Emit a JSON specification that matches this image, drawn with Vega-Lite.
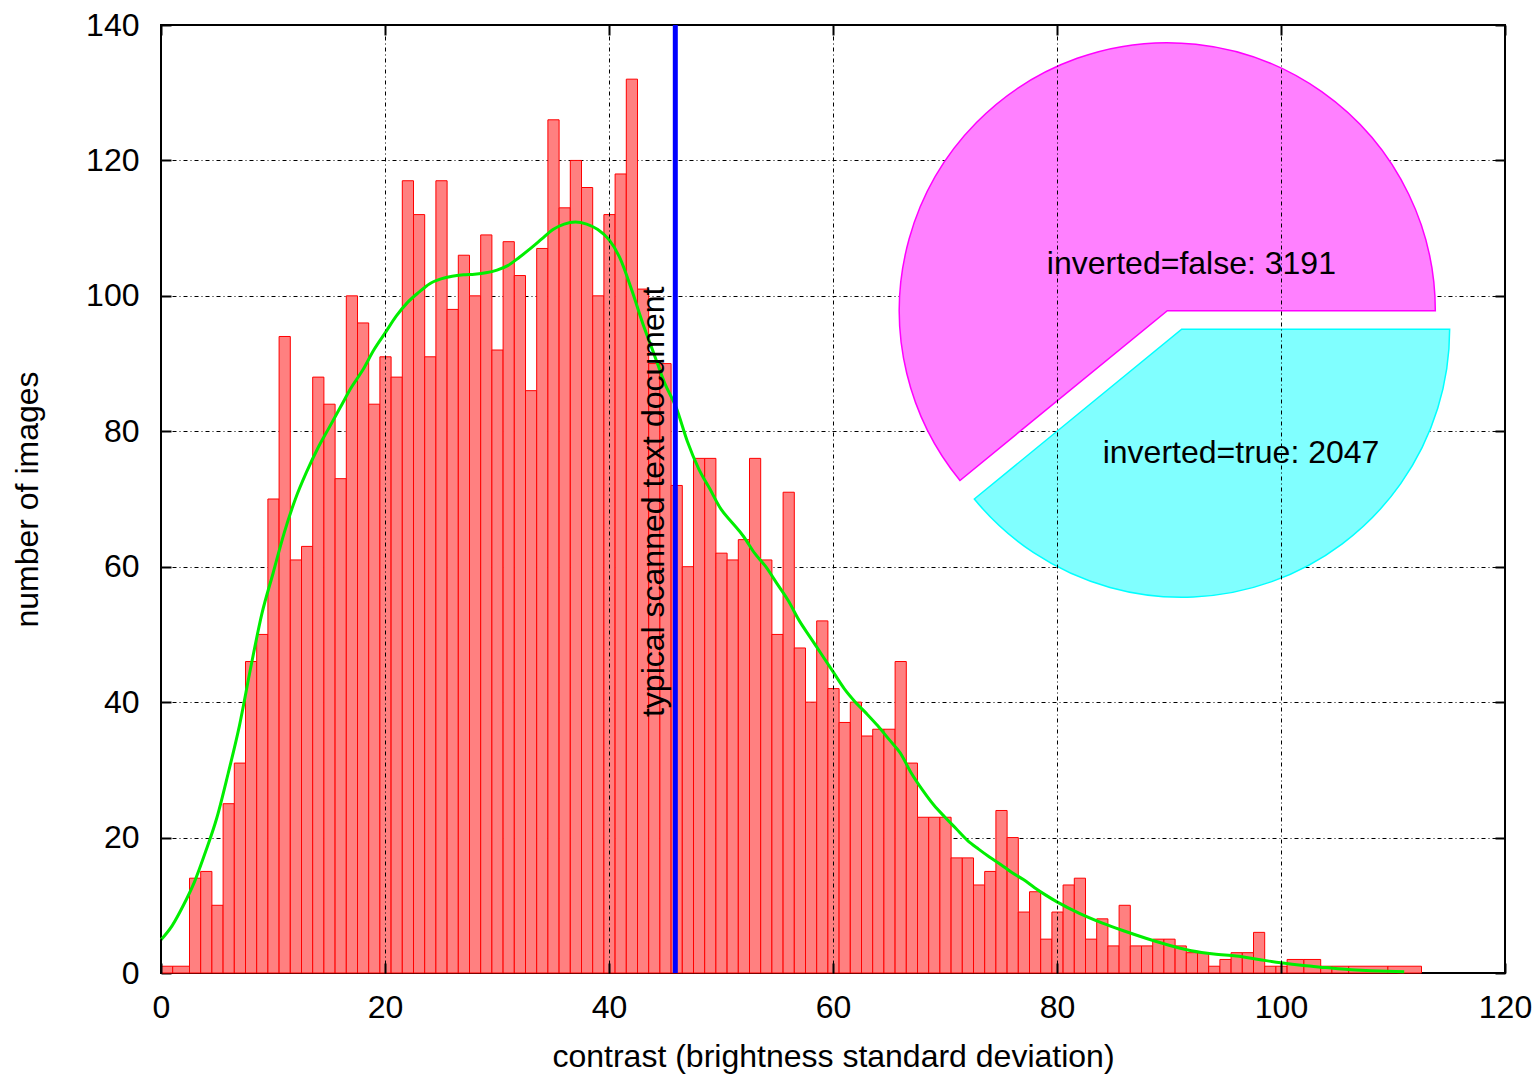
{
  "$schema": "https://vega.github.io/schema/vega-lite/v6.json",
  "width": 1344,
  "height": 948,
  "autosize": {"type": "none"},
  "padding": {"left": 161, "top": 25, "right": 33, "bottom": 101},
  "background": "white",
  "config": {
    "font": "Liberation Sans",
    "view": {"stroke": "black", "strokeWidth": 2},
    "axis": {
      "labelFont": "Liberation Sans",
      "labelFontSize": 32,
      "labelColor": "black",
      "titleFont": "Liberation Sans",
      "titleFontSize": 32,
      "titleFontWeight": "normal",
      "titleColor": "black",
      "domain": false,
      "tickColor": "black",
      "tickWidth": 2,
      "tickSize": -10,
      "gridColor": "black",
      "gridDash": [4, 3, 1, 3],
      "gridWidth": 1,
      "gridOpacity": 1
    }
  },
  "datasets": {
    "hist": [
      {"lo": 0, "hi": 1, "n": 1}, {"lo": 1, "hi": 2.5, "n": 1},
      {"lo": 2.5, "hi": 3.5, "n": 14}, {"lo": 3.5, "hi": 4.5, "n": 15}, {"lo": 4.5, "hi": 5.5, "n": 10},
      {"lo": 5.5, "hi": 6.5, "n": 25}, {"lo": 6.5, "hi": 7.5, "n": 31}, {"lo": 7.5, "hi": 8.5, "n": 46},
      {"lo": 8.5, "hi": 9.5, "n": 50}, {"lo": 9.5, "hi": 10.5, "n": 70}, {"lo": 10.5, "hi": 11.5, "n": 94},
      {"lo": 11.5, "hi": 12.5, "n": 61}, {"lo": 12.5, "hi": 13.5, "n": 63}, {"lo": 13.5, "hi": 14.5, "n": 88},
      {"lo": 14.5, "hi": 15.5, "n": 84}, {"lo": 15.5, "hi": 16.5, "n": 73}, {"lo": 16.5, "hi": 17.5, "n": 100},
      {"lo": 17.5, "hi": 18.5, "n": 96}, {"lo": 18.5, "hi": 19.5, "n": 84}, {"lo": 19.5, "hi": 20.5, "n": 91},
      {"lo": 20.5, "hi": 21.5, "n": 88}, {"lo": 21.5, "hi": 22.5, "n": 117}, {"lo": 22.5, "hi": 23.5, "n": 112},
      {"lo": 23.5, "hi": 24.5, "n": 91}, {"lo": 24.5, "hi": 25.5, "n": 117}, {"lo": 25.5, "hi": 26.5, "n": 98},
      {"lo": 26.5, "hi": 27.5, "n": 106}, {"lo": 27.5, "hi": 28.5, "n": 100}, {"lo": 28.5, "hi": 29.5, "n": 109},
      {"lo": 29.5, "hi": 30.5, "n": 92}, {"lo": 30.5, "hi": 31.5, "n": 108}, {"lo": 31.5, "hi": 32.5, "n": 103},
      {"lo": 32.5, "hi": 33.5, "n": 86}, {"lo": 33.5, "hi": 34.5, "n": 107}, {"lo": 34.5, "hi": 35.5, "n": 126},
      {"lo": 35.5, "hi": 36.5, "n": 113}, {"lo": 36.5, "hi": 37.5, "n": 120}, {"lo": 37.5, "hi": 38.5, "n": 116},
      {"lo": 38.5, "hi": 39.5, "n": 100}, {"lo": 39.5, "hi": 40.5, "n": 112}, {"lo": 40.5, "hi": 41.5, "n": 118},
      {"lo": 41.5, "hi": 42.5, "n": 132}, {"lo": 42.5, "hi": 43.5, "n": 101}, {"lo": 43.5, "hi": 44.5, "n": 90},
      {"lo": 44.5, "hi": 45.5, "n": 90}, {"lo": 45.5, "hi": 46.5, "n": 72}, {"lo": 46.5, "hi": 47.5, "n": 60},
      {"lo": 47.5, "hi": 48.5, "n": 76}, {"lo": 48.5, "hi": 49.5, "n": 76}, {"lo": 49.5, "hi": 50.5, "n": 62},
      {"lo": 50.5, "hi": 51.5, "n": 61}, {"lo": 51.5, "hi": 52.5, "n": 64}, {"lo": 52.5, "hi": 53.5, "n": 76},
      {"lo": 53.5, "hi": 54.5, "n": 61}, {"lo": 54.5, "hi": 55.5, "n": 50}, {"lo": 55.5, "hi": 56.5, "n": 71},
      {"lo": 56.5, "hi": 57.5, "n": 48}, {"lo": 57.5, "hi": 58.5, "n": 40}, {"lo": 58.5, "hi": 59.5, "n": 52},
      {"lo": 59.5, "hi": 60.5, "n": 42}, {"lo": 60.5, "hi": 61.5, "n": 37}, {"lo": 61.5, "hi": 62.5, "n": 40},
      {"lo": 62.5, "hi": 63.5, "n": 35}, {"lo": 63.5, "hi": 64.5, "n": 36}, {"lo": 64.5, "hi": 65.5, "n": 36},
      {"lo": 65.5, "hi": 66.5, "n": 46}, {"lo": 66.5, "hi": 67.5, "n": 31}, {"lo": 67.5, "hi": 68.5, "n": 23},
      {"lo": 68.5, "hi": 69.5, "n": 23}, {"lo": 69.5, "hi": 70.5, "n": 23}, {"lo": 70.5, "hi": 71.5, "n": 17},
      {"lo": 71.5, "hi": 72.5, "n": 17}, {"lo": 72.5, "hi": 73.5, "n": 13}, {"lo": 73.5, "hi": 74.5, "n": 15},
      {"lo": 74.5, "hi": 75.5, "n": 24}, {"lo": 75.5, "hi": 76.5, "n": 20}, {"lo": 76.5, "hi": 77.5, "n": 9},
      {"lo": 77.5, "hi": 78.5, "n": 12}, {"lo": 78.5, "hi": 79.5, "n": 5}, {"lo": 79.5, "hi": 80.5, "n": 9},
      {"lo": 80.5, "hi": 81.5, "n": 13}, {"lo": 81.5, "hi": 82.5, "n": 14}, {"lo": 82.5, "hi": 83.5, "n": 5},
      {"lo": 83.5, "hi": 84.5, "n": 8}, {"lo": 84.5, "hi": 85.5, "n": 4}, {"lo": 85.5, "hi": 86.5, "n": 10},
      {"lo": 86.5, "hi": 87.5, "n": 4}, {"lo": 87.5, "hi": 88.5, "n": 4}, {"lo": 88.5, "hi": 89.5, "n": 5},
      {"lo": 89.5, "hi": 90.5, "n": 5}, {"lo": 90.5, "hi": 91.5, "n": 4}, {"lo": 91.5, "hi": 92.5, "n": 3},
      {"lo": 92.5, "hi": 93.5, "n": 3}, {"lo": 93.5, "hi": 94.5, "n": 1}, {"lo": 94.5, "hi": 95.5, "n": 2},
      {"lo": 95.5, "hi": 96.5, "n": 3}, {"lo": 96.5, "hi": 97.5, "n": 3}, {"lo": 97.5, "hi": 98.5, "n": 6},
      {"lo": 98.5, "hi": 99.5, "n": 1}, {"lo": 99.5, "hi": 100.5, "n": 1}, {"lo": 100.5, "hi": 102, "n": 2},
      {"lo": 102, "hi": 103.5, "n": 2}, {"lo": 103.5, "hi": 104.5, "n": 1}, {"lo": 104.5, "hi": 106, "n": 1},
      {"lo": 106, "hi": 109.5, "n": 1}, {"lo": 109.5, "hi": 112.5, "n": 1}
    ],
    "curve": [
      {"x": 0, "y": 4.9}, {"x": 1, "y": 7}, {"x": 2, "y": 10}, {"x": 3, "y": 13.5}, {"x": 4, "y": 18},
      {"x": 5, "y": 23}, {"x": 6, "y": 29.5}, {"x": 7, "y": 36.5}, {"x": 8, "y": 45}, {"x": 9, "y": 53},
      {"x": 10, "y": 59}, {"x": 11, "y": 65}, {"x": 12, "y": 70}, {"x": 13, "y": 74}, {"x": 14, "y": 77.5},
      {"x": 15, "y": 80.5}, {"x": 16, "y": 83.5}, {"x": 17, "y": 86.5}, {"x": 18, "y": 89}, {"x": 19, "y": 92},
      {"x": 20, "y": 94.5}, {"x": 21, "y": 97}, {"x": 22, "y": 99}, {"x": 23, "y": 100.5}, {"x": 24, "y": 101.8},
      {"x": 25, "y": 102.5}, {"x": 26, "y": 102.9}, {"x": 27, "y": 103.1}, {"x": 28, "y": 103.2}, {"x": 29, "y": 103.4},
      {"x": 30, "y": 103.8}, {"x": 31, "y": 104.5}, {"x": 32, "y": 105.7}, {"x": 33, "y": 107}, {"x": 34, "y": 108.4},
      {"x": 35, "y": 109.8}, {"x": 36, "y": 110.6}, {"x": 37, "y": 110.9}, {"x": 38, "y": 110.6}, {"x": 39, "y": 109.8},
      {"x": 40, "y": 108.3}, {"x": 41, "y": 105.5}, {"x": 42, "y": 101}, {"x": 43, "y": 96}, {"x": 44, "y": 91.5},
      {"x": 45, "y": 87}, {"x": 46, "y": 83.5}, {"x": 47, "y": 78.5}, {"x": 48, "y": 74.5}, {"x": 49, "y": 71.5},
      {"x": 50, "y": 68.5}, {"x": 51, "y": 66.5}, {"x": 52, "y": 64.5}, {"x": 53, "y": 62}, {"x": 54, "y": 60},
      {"x": 55, "y": 57.5}, {"x": 56, "y": 55}, {"x": 57, "y": 52}, {"x": 58, "y": 49.5}, {"x": 59, "y": 47},
      {"x": 60, "y": 44.5}, {"x": 61, "y": 42}, {"x": 62, "y": 40}, {"x": 63, "y": 38.3}, {"x": 64, "y": 36.5},
      {"x": 65, "y": 34.5}, {"x": 66, "y": 32.5}, {"x": 67, "y": 29.5}, {"x": 68, "y": 27}, {"x": 69, "y": 24.8},
      {"x": 70, "y": 23}, {"x": 71, "y": 21.3}, {"x": 72, "y": 19.6}, {"x": 73, "y": 18.3}, {"x": 74, "y": 17.1},
      {"x": 75, "y": 16}, {"x": 76, "y": 14.8}, {"x": 77, "y": 13.8}, {"x": 78, "y": 12.6}, {"x": 79, "y": 11.5},
      {"x": 80, "y": 10.5}, {"x": 82, "y": 8.8}, {"x": 84, "y": 7.4}, {"x": 86, "y": 6.2}, {"x": 88, "y": 5.1},
      {"x": 90, "y": 4.1}, {"x": 92, "y": 3.3}, {"x": 94, "y": 2.8}, {"x": 96, "y": 2.5}, {"x": 98, "y": 2.0},
      {"x": 100, "y": 1.5}, {"x": 102, "y": 1.1}, {"x": 104, "y": 0.8}, {"x": 106, "y": 0.5}, {"x": 108, "y": 0.35},
      {"x": 111, "y": 0.2}
    ],
    "pie": [
      {"name": "inverted=false", "count": 3191, "label": "inverted=false: 3191"},
      {"name": "inverted=true", "count": 2047, "label": "inverted=true: 2047"}
    ],
    "marker": [
      {"contrast": 45.92, "note": "typical scanned text document"}
    ]
  },
  "resolve": {"axis": {"x": "independent", "y": "independent"}},
  "layer": [
    {
      "data": {"name": "hist"},
      "mark": {"type": "rect", "fill": "#ff8080", "stroke": "#ff0000", "strokeWidth": 1},
      "encoding": {
        "x": {
          "field": "lo", "type": "quantitative", "bin": "binned",
          "scale": {"domain": [0, 120], "nice": false, "zero": false},
          "axis": {"orient": "bottom", "values": [0, 20, 40, 60, 80, 100, 120], "grid": true, "labelPadding": 29,
                   "labelFlush": false, "title": "contrast (brightness standard deviation)", "titlePadding": 18}
        },
        "x2": {"field": "hi"},
        "y": {
          "field": "n", "type": "quantitative",
          "scale": {"domain": [0, 140], "nice": false},
          "axis": {"orient": "left", "values": [0, 20, 40, 60, 80, 100, 120, 140], "grid": true, "labelPadding": 32,
                   "labelFlush": false, "title": "number of images", "titlePadding": 41}
        },
        "y2": {"datum": 0}
      }
    },
    {
      "data": {"name": "curve"},
      "mark": {"type": "line", "color": "#00ee00", "strokeWidth": 3, "interpolate": "monotone"},
      "encoding": {
        "x": {"field": "x", "type": "quantitative",
              "axis": {"orient": "top", "values": [0, 20, 40, 60, 80, 100, 120], "grid": false, "labels": false, "title": null}},
        "y": {"field": "y", "type": "quantitative",
              "axis": {"orient": "right", "values": [0, 20, 40, 60, 80, 100, 120, 140], "grid": false, "labels": false, "title": null}}
      }
    },
    {
      "data": {"name": "marker"},
      "mark": {"type": "rule", "color": "#0000ff", "strokeWidth": 5},
      "encoding": {"x": {"field": "contrast", "type": "quantitative", "axis": null}}
    },
    {
      "data": {"name": "marker"},
      "mark": {"type": "text", "angle": 270, "align": "left",
               "baseline": "alphabetic", "fontSize": 32, "font": "Liberation Sans", "color": "black"},
      "encoding": {
        "text": {"field": "note"},
        "x": {"datum": 44.91, "type": "quantitative", "axis": null},
        "y": {"datum": 37.8, "type": "quantitative", "axis": null}
      }
    },
    {
      "data": {"name": "pie"},
      "transform": [
        {"stack": "count", "groupby": [], "sort": [{"field": "count", "order": "ascending"}], "as": ["c0", "c1"]},
        {"filter": "datum.name == 'inverted=false'"}
      ],
      "mark": {"type": "arc", "outerRadius": 268, "fill": "#ff80ff", "stroke": "#ff00ff", "strokeWidth": 1.5},
      "encoding": {
        "theta": {"field": "c0", "type": "quantitative", "scale": {"domain": [0, 5238], "range": [1.5708, 7.854]}},
        "theta2": {"field": "c1"},
        "x": {"datum": 89.85, "type": "quantitative", "axis": null},
        "y": {"datum": 97.81, "type": "quantitative", "axis": null}
      }
    },
    {
      "data": {"name": "pie"},
      "transform": [
        {"stack": "count", "groupby": [], "sort": [{"field": "count", "order": "ascending"}], "as": ["c0", "c1"]},
        {"filter": "datum.name == 'inverted=true'"}
      ],
      "mark": {"type": "arc", "outerRadius": 268, "fill": "#80ffff", "stroke": "#00ffff", "strokeWidth": 1.5},
      "encoding": {
        "theta": {"field": "c0", "type": "quantitative"},
        "theta2": {"field": "c1"},
        "x": {"datum": 91.13, "type": "quantitative", "axis": null},
        "y": {"datum": 95.07, "type": "quantitative", "axis": null}
      }
    },
    {
      "data": {"name": "pie"},
      "transform": [{"filter": "datum.name == 'inverted=false'"}],
      "mark": {"type": "text", "align": "center", "baseline": "alphabetic", "fontSize": 32, "font": "Liberation Sans", "color": "black"},
      "encoding": {
        "text": {"field": "label"},
        "x": {"datum": 92.0, "type": "quantitative", "axis": null},
        "y": {"datum": 103.3, "type": "quantitative", "axis": null}
      }
    },
    {
      "data": {"name": "pie"},
      "transform": [{"filter": "datum.name == 'inverted=true'"}],
      "mark": {"type": "text", "align": "center", "baseline": "alphabetic", "fontSize": 32, "font": "Liberation Sans", "color": "black"},
      "encoding": {
        "text": {"field": "label"},
        "x": {"datum": 96.43, "type": "quantitative", "axis": null},
        "y": {"datum": 75.25, "type": "quantitative", "axis": null}
      }
    }
  ]
}
